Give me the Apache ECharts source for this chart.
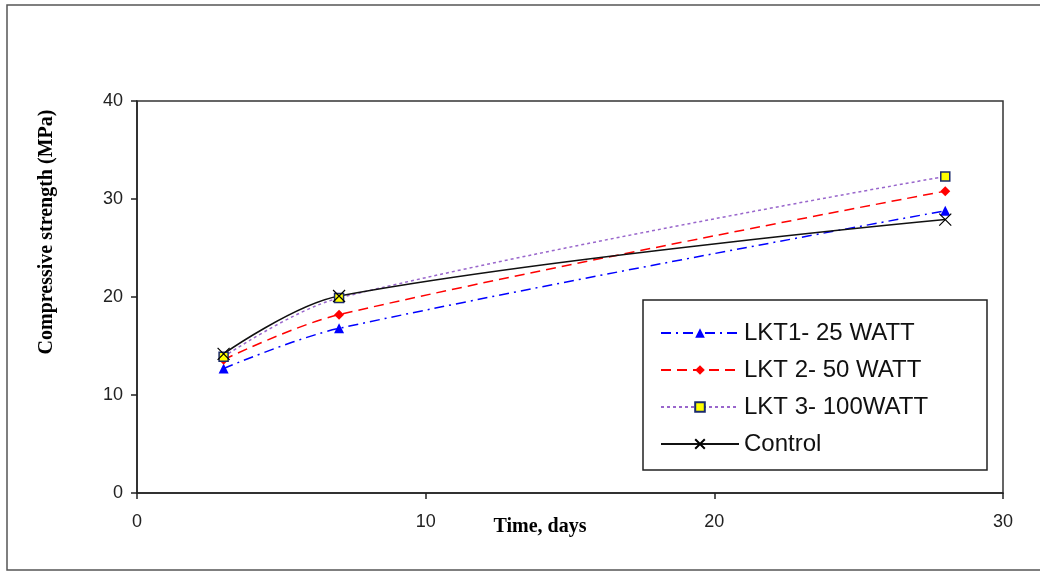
<!DOCTYPE html>
<html>
<head>
<meta charset="utf-8">
<script src="https://cdn.jsdelivr.net/npm/echarts@6/dist/echarts.min.js"></script>
<style>
html, body { margin: 0; padding: 0; background: #fff; }
#box1 { width: 1040px; height: 572px; }
</style>
</head>
<body>
<div id="box1"></div>
<script>
var days = [3, 7, 28];
var lkt1 = [12.7, 16.8, 28.8];
var lkt2 = [13.6, 18.2, 30.8];
var lkt3 = [13.9, 19.9, 32.3];
var control = [14.2, 20.1, 27.9];
var names = ['LKT1- 25 WATT', 'LKT 2- 50 WATT', 'LKT 3- 100WATT', 'Control'];

function pairs(ys) {
  return days.map(function (d, i) { return [d, ys[i]]; });
}

var dom = document.getElementById("box1");
var myChart = echarts.init(dom);
var option = null;

// X marker for the control series
var crossPath = 'path://M0,0L10,10M10,0L0,10';

option = {
  animation: false,
  grid: {
    left: 137, top: 101, right: 37, bottom: 79,
    show: true, borderColor: '#333', borderWidth: 1.5, backgroundColor: 'transparent'
  },
  graphic: [
    {
      type: 'rect',
      shape: { x: 7, y: 5, width: 1040, height: 565 },
      style: { fill: 'none', stroke: '#555', lineWidth: 1.5 },
      silent: true
    },
    {
      // legend frame
      type: 'rect',
      shape: { x: 643, y: 300, width: 344, height: 170 },
      style: { fill: '#fff', stroke: '#222', lineWidth: 1.5 },
      silent: true, z: 0
    },
    {
      type: 'text',
      x: 540, y: 527,
      style: {
        text: 'Time, days', fill: '#000',
        font: 'bold 20px "Liberation Serif", serif',
        align: 'center', verticalAlign: 'middle'
      }
    },
    {
      type: 'text',
      x: 47, y: 232,
      rotation: Math.PI / 2,
      style: {
        text: 'Compressive strength (MPa)', fill: '#000',
        font: 'bold 20px "Liberation Serif", serif',
        align: 'center', verticalAlign: 'middle'
      }
    }
  ],
  legend: {
    orient: 'vertical',
    left: 660, top: 321,
    padding: 0,
    itemWidth: 78, itemHeight: 12, itemGap: 13,
    textStyle: { fontFamily: '"Liberation Sans", Arial, sans-serif', fontSize: 24, color: '#111' },
    data: names,
    z: 5
  },
  xAxis: {
    type: 'value', min: 0, max: 30, interval: 10,
    axisLine: { show: true, lineStyle: { color: '#222', width: 1.5 } },
    axisTick: { show: true, length: 6, lineStyle: { color: '#222', width: 1.5 } },
    axisLabel: { margin: 20, fontFamily: '"Liberation Sans", Arial, sans-serif', fontSize: 18, color: '#222' },
    splitLine: { show: false }
  },
  yAxis: {
    type: 'value', min: 0, max: 40, interval: 10,
    axisLine: { show: true, lineStyle: { color: '#222', width: 1.5 } },
    axisTick: { show: true, length: 6, lineStyle: { color: '#222', width: 1.5 } },
    axisLabel: { margin: 14, fontFamily: '"Liberation Sans", Arial, sans-serif', fontSize: 18, color: '#222' },
    splitLine: { show: false }
  },
  series: [
    {
      name: names[0], type: 'line', smooth: 0.35, data: pairs(lkt1),
      symbol: 'triangle', symbolSize: 10,
      itemStyle: { color: '#0000ff' },
      lineStyle: { color: '#0000ff', width: 1.5, type: [10, 5, 2, 5] }
    },
    {
      name: names[1], type: 'line', smooth: 0.35, data: pairs(lkt2),
      symbol: 'diamond', symbolSize: 10,
      itemStyle: { color: '#ff0000' },
      lineStyle: { color: '#ff0000', width: 1.5, type: [10, 6] }
    },
    {
      name: names[2], type: 'line', smooth: 0.35, data: pairs(lkt3),
      symbol: 'rect', symbolSize: 9,
      itemStyle: { color: '#ffff00', borderColor: '#1a2a6c', borderWidth: 1.5 },
      lineStyle: { color: '#9966cc', width: 1.5, type: [3, 3] }
    },
    {
      name: names[3], type: 'line', smooth: 0.35, data: pairs(control),
      symbol: crossPath, symbolSize: 12, showSymbol: true,
      itemStyle: { color: 'none', borderColor: '#000', borderWidth: 1.2 },
      lineStyle: { color: '#111', width: 1.5, type: 'solid' }
    }
  ]
};

if (option && typeof option === 'object') {
  myChart.setOption(option);
}
</script>
</body>
</html>
